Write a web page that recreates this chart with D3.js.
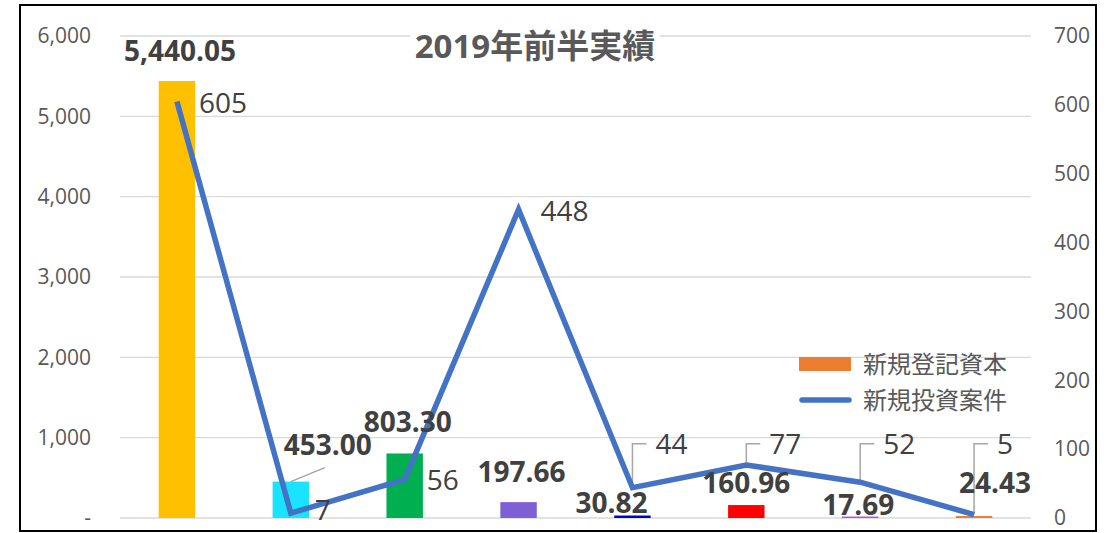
<!DOCTYPE html>
<html>
<head>
<meta charset="utf-8">
<script src="https://cdn.jsdelivr.net/npm/d3@7"></script>
<style>
  body { margin: 0; background: #fff; }
  svg text { font-family: "Open Sans", "Noto Sans CJK JP", sans-serif; }
</style>
</head>
<body>
<svg id="chart" width="1112" height="533"></svg>
<script>
var categories = ["c1", "c2", "c3", "c4", "c5", "c6", "c7", "c8"];
var capital = [5440.05, 453.00, 803.30, 197.66, 30.82, 160.96, 17.69, 24.43];
var projects = [605, 7, 56, 448, 44, 77, 52, 5];
var barColors = ["#FFC000", "#19E3FF", "#00B050", "#7F5FD5", "#0000CC", "#FF0000", "#CC44CC", "#ED7D31"];
var leftTicks = [0, 1000, 2000, 3000, 4000, 5000, 6000];
var rightTicks = [0, 100, 200, 300, 400, 500, 600, 700];
var seriesNames = ["新規登記資本", "新規投資案件"];
var title = "2019年前半実績";

// label nudges (layout only)
var barLabelOff = [[3, -20], [37, -27], [3, -21], [3, -20], [-21, -3], [0, -12], [-2, -2], [21, -23]];
var lineLabelOff = [[22, 12], [24, 7], [22, 11], [22, 11], null, null, null, null];

var plotL = 120, plotR = 1031, plotT = 36, plotB = 518;

var svg = d3.select("#chart");

svg.append("rect")
	.attr("x", 20).attr("y", 5)
	.attr("width", 1076).attr("height", 526)
	.attr("fill", "#fff")
	.attr("stroke", "#000")
	.attr("stroke-width", 2);

var x = d3.scaleBand()
	.domain(categories)
	.range([plotL, plotR]);

var yL = d3.scaleLinear().domain([0, 6000]).range([plotB, plotT]);
var yR = d3.scaleLinear().domain([0, 700]).range([plotB, plotT]);

// gridlines
svg.append("g")
	.selectAll("line")
	.data(leftTicks)
	.enter().append("line")
		.attr("x1", plotL).attr("x2", plotR)
		.attr("y1", function(d){return yL(d);})
		.attr("y2", function(d){return yL(d);})
		.attr("stroke", "#d9d9d9")
		.attr("stroke-width", 1.3);

var yaxisL = d3.axisLeft(yL)
	.tickValues(leftTicks)
	.tickSize(0)
	.tickPadding(29)
	.tickFormat(function(d){return d === 0 ? "-" : d3.format(",")(d);});

var yaxisR = d3.axisRight(yR)
	.tickValues(rightTicks)
	.tickSize(0)
	.tickPadding(23)
	.tickFormat(d3.format("d"));

svg.append("g")
	.attr("transform", "translate(" + plotL + ",0)")
	.call(yaxisL)
	.call(function(g){g.select(".domain").remove();})
	.selectAll("text")
		.attr("font-size", 21)
		.attr("fill", "#595959")
		.style("font-family", "Open Sans");

svg.append("g")
	.attr("transform", "translate(" + plotR + ",0)")
	.call(yaxisR)
	.call(function(g){g.select(".domain").remove();})
	.selectAll("text")
		.attr("font-size", 21)
		.attr("fill", "#595959")
		.style("font-family", "Open Sans");

// title with white backing
var tg = svg.append("g");
tg.append("rect")
	.attr("x", 410).attr("y", 27).attr("width", 250).attr("height", 36)
	.attr("fill", "#fff");
tg.append("text")
	.attr("x", 535).attr("y", 58)
	.attr("text-anchor", "middle")
	.attr("font-size", 33)
	.attr("font-weight", "bold")
	.attr("fill", "#595959")
	.text(title);

var bw = x.bandwidth() * 0.32;
function cx(i){return x(categories[i]) + x.bandwidth() / 2;}

svg.append("g")
	.selectAll("rect")
	.data(capital)
	.enter().append("rect")
		.attr("x", function(d, i){return cx(i) - bw / 2;})
		.attr("y", function(d){return yL(d);})
		.attr("width", bw)
		.attr("height", function(d){return plotB - yL(d);})
		.attr("fill", function(d, i){return barColors[i];});

// leader for 453.00
svg.append("line")
	.attr("x1", cx(1)).attr("y1", yL(capital[1]))
	.attr("x2", cx(1) + 34).attr("y2", yL(capital[1]) - 14)
	.attr("stroke", "#a6a6a6").attr("stroke-width", 1.5);

// line leaders for labels 4..7
var leaderY = yR(108);
projects.forEach(function(v, i){
	if (lineLabelOff[i]) return;
	svg.append("path")
		.attr("d", "M" + cx(i) + "," + yR(v) + "V" + leaderY + "H" + (cx(i) + 14))
		.attr("fill", "none")
		.attr("stroke", "#a6a6a6")
		.attr("stroke-width", 1.5);
});

var line = d3.line()
	.x(function(d, i){return cx(i);})
	.y(function(d){return yR(d);});

svg.append("path")
	.datum(projects)
	.attr("d", line)
	.attr("fill", "none")
	.attr("stroke", "#4472C4")
	.attr("stroke-width", 5.5);

// bar labels
svg.append("g")
	.selectAll("text")
	.data(capital)
	.enter().append("text")
		.attr("x", function(d, i){return cx(i) + barLabelOff[i][0];})
		.attr("y", function(d, i){return yL(d) + barLabelOff[i][1];})
		.attr("text-anchor", "middle")
		.attr("font-size", 28)
		.attr("font-weight", "bold")
		.attr("fill", "#404040")
		.text(function(d){return d3.format(",.2f")(d);});

// line labels
svg.append("g")
	.selectAll("text")
	.data(projects)
	.enter().append("text")
		.attr("x", function(d, i){return cx(i) + (lineLabelOff[i] ? lineLabelOff[i][0] : 23);})
		.attr("y", function(d, i){return lineLabelOff[i] ? yR(d) + lineLabelOff[i][1] : leaderY + 10;})
		.attr("font-size", 28)
		.attr("fill", "#404040")
		.text(function(d){return d;});

// legend
var lg = svg.append("g");
lg.append("rect")
	.attr("x", 799).attr("y", 357).attr("width", 52).attr("height", 14)
	.attr("fill", "#ED7D31");
lg.append("line")
	.attr("x1", 802).attr("x2", 849).attr("y1", 400).attr("y2", 400)
	.attr("stroke", "#4472C4").attr("stroke-width", 5.5).attr("stroke-linecap", "round");
lg.selectAll("text")
	.data(seriesNames)
	.enter().append("text")
		.attr("x", 863)
		.attr("y", function(d, i){return 373 + i * 36;})
		.attr("font-size", 24)
		.attr("fill", "#595959")
		.text(function(d){return d;});
</script>
</body>
</html>
